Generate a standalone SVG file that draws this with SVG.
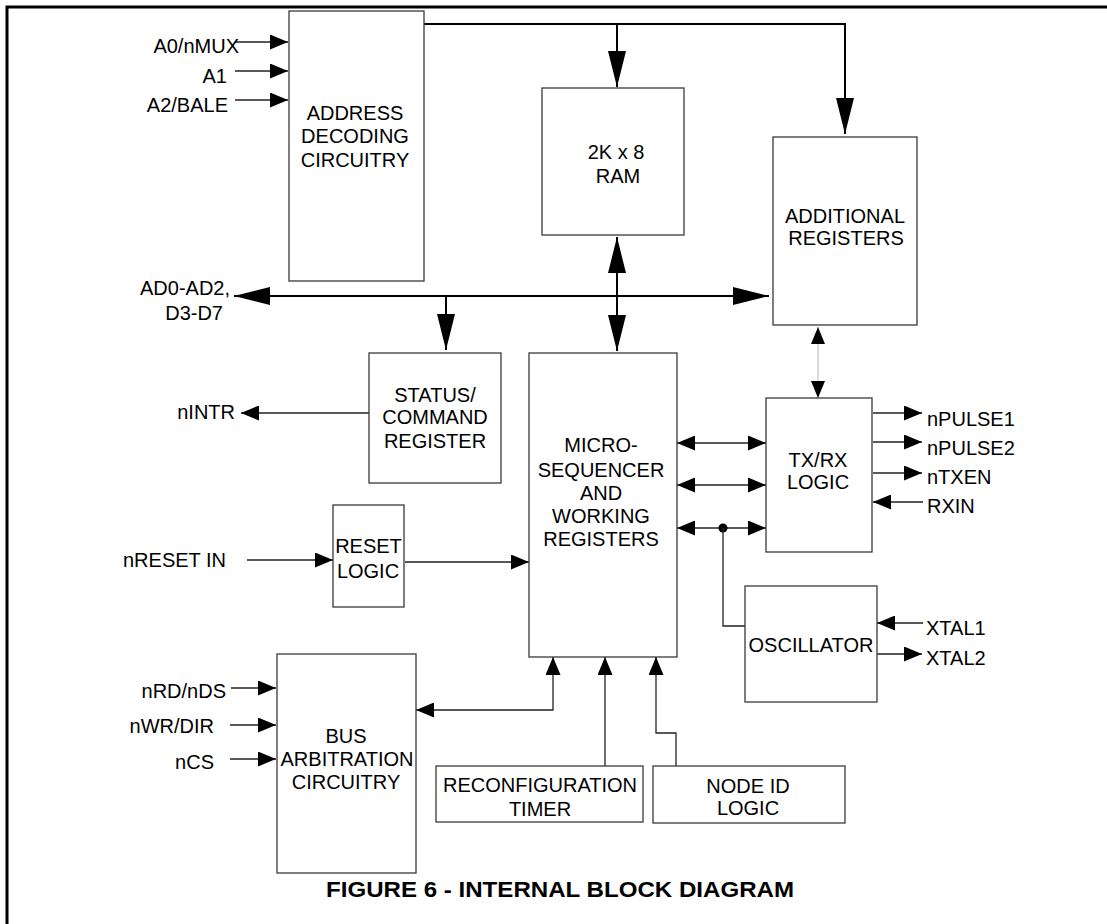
<svg xmlns="http://www.w3.org/2000/svg" width="1107" height="924" viewBox="0 0 1107 924">
<style>
  .box{fill:#fff;stroke:#3a3a3a;stroke-width:1.3}
  .t{font-family:"Liberation Sans",Arial,sans-serif;font-size:20px;fill:#000}
  .m{text-anchor:middle}
  .e{text-anchor:end}
  .thin{fill:none;stroke:#222;stroke-width:1.3}
  .thick{fill:none;stroke:#000;stroke-width:2}
  .gray{fill:none;stroke:#c8c8c8;stroke-width:1.3}
  .frame{fill:none;stroke:#000;stroke-width:3}
</style>
<defs>
  <marker id="big" viewBox="0 0 36 18" refX="36" refY="9" markerWidth="36" markerHeight="18" markerUnits="userSpaceOnUse" orient="auto-start-reverse"><path d="M0,0L36,9L0,18z" fill="#000"/></marker>
  <marker id="sm" viewBox="0 0 18 15" refX="18" refY="7.5" markerWidth="18" markerHeight="15" markerUnits="userSpaceOnUse" orient="auto-start-reverse"><path d="M0,0L18,7.5L0,15z" fill="#000"/></marker>
  <marker id="gr" viewBox="0 0 17 14" refX="17" refY="7" markerWidth="17" markerHeight="14" markerUnits="userSpaceOnUse" orient="auto-start-reverse"><path d="M0,0L17,7L0,14z" fill="#000"/></marker>
</defs>
<rect width="1107" height="924" fill="#fff"/>
<path class="frame" d="M7,924V7H1107"/>

<g id="connectors">
  <path class="thick" d="M424,24H845V134" marker-end="url(#big)"/>
  <path class="thick" d="M617,24V87" marker-end="url(#big)"/>
  <path class="thick" d="M234,296H769" marker-start="url(#big)" marker-end="url(#big)"/>
  <path class="thick" d="M446,296V350" marker-end="url(#big)"/>
  <path class="thick" d="M617,237V351" marker-start="url(#big)" marker-end="url(#big)"/>
  <path class="gray" d="M818,327V398" marker-start="url(#gr)" marker-end="url(#gr)"/>
  <path class="thin" d="M235,42H288" marker-end="url(#sm)"/>
  <path class="thin" d="M235,71H288" marker-end="url(#sm)"/>
  <path class="thin" d="M235,100H288" marker-end="url(#sm)"/>
  <path class="thin" d="M369,413H241" marker-end="url(#sm)"/>
  <path class="thin" d="M247,560H333" marker-end="url(#sm)"/>
  <path class="thin" d="M405,562H529" marker-end="url(#sm)"/>
  <path class="thin" d="M677,443H766" marker-start="url(#sm)" marker-end="url(#sm)"/>
  <path class="thin" d="M677,485H766" marker-start="url(#sm)" marker-end="url(#sm)"/>
  <path class="thin" d="M677,528H766" marker-start="url(#sm)" marker-end="url(#sm)"/>
  <circle cx="723" cy="528" r="4.5" fill="#000"/>
  <path class="thin" d="M723,528V626H746"/>
  <path class="thin" d="M873,413H922" marker-end="url(#sm)"/>
  <path class="thin" d="M873,442H922" marker-end="url(#sm)"/>
  <path class="thin" d="M873,473H922" marker-end="url(#sm)"/>
  <path class="thin" d="M923,502H873" marker-end="url(#sm)"/>
  <path class="thin" d="M923,623H877" marker-end="url(#sm)"/>
  <path class="thin" d="M877,654H922" marker-end="url(#sm)"/>
  <path class="thin" d="M553,657V710H416" marker-start="url(#sm)" marker-end="url(#sm)"/>
  <path class="thin" d="M605,766V657" marker-end="url(#sm)"/>
  <path class="thin" d="M676,766V733H656V657" marker-end="url(#sm)"/>
  <path class="thin" d="M231,688H276" marker-end="url(#sm)"/>
  <path class="thin" d="M230,725H276" marker-end="url(#sm)"/>
  <path class="thin" d="M230,759H276" marker-end="url(#sm)"/>
</g>

<g id="labels">
  <text class="t e" x="239" y="53">A0/nMUX</text>
  <text class="t e" x="227" y="83">A1</text>
  <text class="t e" x="228" y="112">A2/BALE</text>
  <text class="t e" x="230" y="295">AD0-AD2,</text>
  <text class="t e" x="223" y="320">D3-D7</text>
  <text class="t e" x="235" y="419">nINTR</text>
  <text class="t e" x="226" y="567">nRESET IN</text>
  <text class="t e" x="226" y="698">nRD/nDS</text>
  <text class="t e" x="214" y="733">nWR/DIR</text>
  <text class="t e" x="214" y="769">nCS</text>
  <text class="t" x="927" y="426">nPULSE1</text>
  <text class="t" x="927" y="455">nPULSE2</text>
  <text class="t" x="927" y="484">nTXEN</text>
  <text class="t" x="927" y="513">RXIN</text>
  <text class="t" x="926" y="635">XTAL1</text>
  <text class="t" x="926" y="665">XTAL2</text>
</g>

<g id="address-decoding">
  <rect class="box" x="289" y="11" width="135" height="270"/>
  <text class="t m" x="355" y="120">ADDRESS</text>
  <text class="t m" x="355" y="143">DECODING</text>
  <text class="t m" x="355" y="167">CIRCUITRY</text>
</g>
<g id="ram">
  <rect class="box" x="542" y="88" width="142" height="147"/>
  <text class="t m" x="616" y="159">2K x 8</text>
  <text class="t m" x="618" y="183">RAM</text>
</g>
<g id="additional-registers">
  <rect class="box" x="773" y="137" width="144" height="188"/>
  <text class="t m" x="845" y="223">ADDITIONAL</text>
  <text class="t m" x="846" y="245">REGISTERS</text>
</g>
<g id="status-command">
  <rect class="box" x="369" y="353" width="132" height="130"/>
  <text class="t m" x="435" y="402">STATUS/</text>
  <text class="t m" x="435" y="424">COMMAND</text>
  <text class="t m" x="435" y="448">REGISTER</text>
</g>
<g id="microsequencer">
  <rect class="box" x="529" y="353" width="148" height="304"/>
  <text class="t m" x="601" y="452">MICRO-</text>
  <text class="t m" x="601" y="477">SEQUENCER</text>
  <text class="t m" x="601" y="500">AND</text>
  <text class="t m" x="601" y="523">WORKING</text>
  <text class="t m" x="601" y="546">REGISTERS</text>
</g>
<g id="txrx-logic">
  <rect class="box" x="766" y="398" width="106" height="154"/>
  <text class="t m" x="818" y="467">TX/RX</text>
  <text class="t m" x="818" y="489">LOGIC</text>
</g>
<g id="reset-logic">
  <rect class="box" x="333" y="505" width="71" height="102"/>
  <text class="t m" x="368.5" y="553">RESET</text>
  <text class="t m" x="368" y="578">LOGIC</text>
</g>
<g id="oscillator">
  <rect class="box" x="745" y="586" width="132" height="116"/>
  <text class="t m" x="811" y="652">OSCILLATOR</text>
</g>
<g id="bus-arbitration">
  <rect class="box" x="277" y="654" width="139" height="219"/>
  <text class="t m" x="346" y="743">BUS</text>
  <text class="t m" x="347" y="766">ARBITRATION</text>
  <text class="t m" x="346" y="789">CIRCUITRY</text>
</g>
<g id="reconfiguration-timer">
  <rect class="box" x="436" y="766" width="207" height="56"/>
  <text class="t m" x="540" y="792">RECONFIGURATION</text>
  <text class="t m" x="540" y="816">TIMER</text>
</g>
<g id="node-id-logic">
  <rect class="box" x="653" y="766" width="192" height="57"/>
  <text class="t m" x="748" y="793">NODE ID</text>
  <text class="t m" x="748" y="815">LOGIC</text>
</g>
<text x="326" y="897" textLength="468" lengthAdjust="spacingAndGlyphs" style="font-family:'Liberation Sans',Arial,sans-serif;font-size:22px;font-weight:bold">FIGURE 6 - INTERNAL BLOCK DIAGRAM</text>
</svg>
